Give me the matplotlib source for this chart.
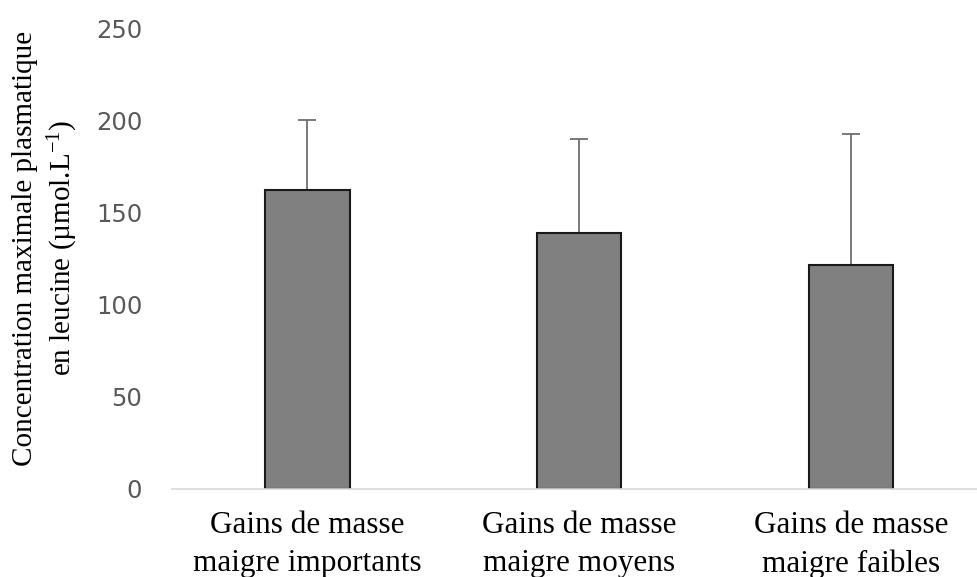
import matplotlib
matplotlib.use("Agg")
import matplotlib.pyplot as plt
import numpy as np

categories = ["Gains de masse\nmaigre importants", "Gains de masse\nmaigre moyens", "Gains de masse\nmaigre faibles"]
values = [162.5, 139, 122]
errors_up = [38, 51, 71]
yticks = [0, 50, 100, 150, 200, 250]

plt.rcParams['mathtext.fontset'] = 'custom'
plt.rcParams['mathtext.rm'] = 'Liberation Serif'
plt.rcParams['mathtext.it'] = 'Liberation Serif:italic'
plt.rcParams['mathtext.bf'] = 'Liberation Serif:bold'

W, H = 978, 577
fig = plt.figure(figsize=(W/100, H/100), dpi=100)
left, right, top, bottom = 171.5, 987, 29, 489
ax = fig.add_axes([left/W, 1-bottom/H, (right-left)/W, (bottom-top)/H])

x = np.arange(len(categories))
ax.bar(x, values, width=0.31, color="#808080", edgecolor="#1a1a1a", linewidth=1.5, zorder=2)
ax.errorbar(x, values, yerr=[np.zeros(len(values)), errors_up], fmt='none',
            ecolor="#6e6e6e", elinewidth=1.3, capsize=6.5, capthick=1.3, zorder=1)

ax.set_xlim(-0.5, 2.5)
ax.set_ylim(0, 250)
ax.set_yticks(yticks)
ax.set_yticklabels([str(t) for t in yticks], fontsize=17.5, color="#595959", family="DejaVu Sans")
ax.tick_params(axis='y', length=0, pad=21)
ax.set_xticks(x)
ax.set_xticklabels(categories, fontsize=22.5, family="Liberation Serif", linespacing=1.4)
ax.tick_params(axis='x', length=0, pad=16)
for s in ["top", "right", "left"]:
    ax.spines[s].set_visible(False)
ax.spines["bottom"].set_color("#d9d9d9")
ax.spines["bottom"].set_linewidth(1.2)

fig.text(46/W, 1-248/H, "Concentration maximale plasmatique\nen leucine (µmol.L$^{-1}$)",
         rotation=90, ha="center", va="center", fontsize=21, family="Liberation Serif",
         linespacing=1.3)

fig.savefig("out.png", dpi=100)
